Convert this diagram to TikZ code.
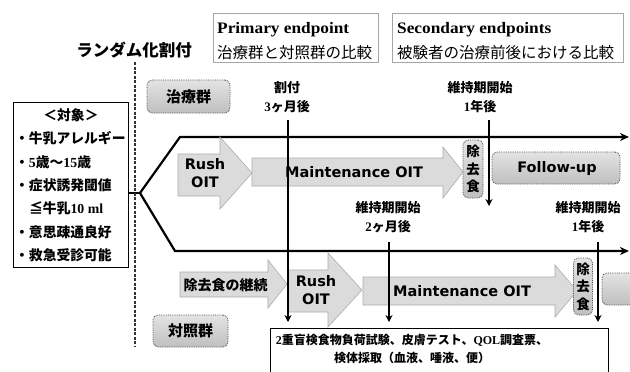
\documentclass[tikz,border=0pt]{standalone}
\usepackage{fontspec}
\setmainfont{Noto Sans CJK JP}
\newfontfamily\lserif{Liberation Serif}
\newfontfamily\eserif{Liberation Serif}[FakeStretch=1.08]
\newfontfamily\vsans{DejaVu Sans}
\usetikzlibrary{arrows.meta}
\tikzset{
  txt/.style={inner sep=0pt, align=center},
  jpb/.style={txt, font=\bfseries\fontsize{13.8}{19}\selectfont},
  lbl/.style={txt, font=\bfseries\fontsize{13}{19}\selectfont},
  engl/.style={txt, font=\vsans\bfseries\fontsize{14.5}{18}\selectfont},
  garrow/.style={fill=gray!28, draw=gray!65, line width=0.6pt, line join=miter},
  rbox/.style={rounded corners=5pt, draw=gray!60!black, densely dotted, line width=0.8pt,
    top color=gray!22, bottom color=gray!50, inner sep=0pt},
  epbox/.style={draw=gray!70, line width=0.8pt, inner sep=0pt},
  tline/.style={line width=2.2pt, line join=miter},
  vline/.style={line width=1.6pt, -{Stealth[length=7pt,width=7pt]}},
  randline/.style={line width=1.1pt, black!80, dash pattern=on 3pt off 1.5pt},
}
\begin{document}
\begin{tikzpicture}[x=1pt,y=-1pt]
\useasboundingbox (0,0) rectangle (630,372);
\clip (0,0) rectangle (630,372);
\fill[white] (0,0) rectangle (630,372);

% header
\node[txt, font=\bfseries\fontsize{16.5}{19}\selectfont] (rand) at (134,50) {ランダム化割付};
\node[epbox, minimum width=165pt, minimum height=49pt] (pbox) at (295.5,37.5) {};
\node[txt, anchor=west, font=\eserif\bfseries\fontsize{16}{18}\selectfont] (pt1) at (217,30) {Primary endpoint};
\node[txt, anchor=west, font=\fontsize{15.5}{18}\selectfont] (pt2) at (217,53) {治療群と対照群の比較};
\node[epbox, minimum width=231pt, minimum height=49pt] (sbox) at (507.5,37.5) {};
\node[txt, anchor=west, font=\eserif\bfseries\fontsize{16}{18}\selectfont] (st1) at (397,30) {Secondary endpoints};
\node[txt, anchor=west, font=\fontsize{15.5}{18}\selectfont] (st2) at (397,53) {被験者の治療前後における比較};

% target box
\node[draw, line width=1pt, minimum width=115pt, minimum height=165pt, inner sep=0pt] (tbox) at (70.5,184.5) {};
\node[jpb] (l0) at (71,115) {＜対象＞};
\node[jpb, anchor=west] (l1) at (15,138) {・牛乳アレルギー};
\node[jpb, anchor=west] (l2) at (15,162) {・{\lserif\bfseries 5}歳～{\lserif\bfseries 15}歳};
\node[jpb, anchor=west] (l3) at (15,185) {・症状誘発閾値};
\node[jpb, anchor=west] (l4) at (29,208) {≦牛乳{\lserif\bfseries 10 ml}};
\node[jpb, anchor=west] (l5) at (15,232) {・意思疎通良好};
\node[jpb, anchor=west] (l6) at (15,255) {・救急受診可能};

% group timelines
\coordinate (b0) at (128,193);
\coordinate (br) at (140,193);
\coordinate (t0) at (180,137);
\coordinate (t1) at (629,137);
\coordinate (u0) at (175,251);
\coordinate (u1) at (629,251);
\draw[tline] (b0) -- (br);
\draw[tline, -{Stealth[length=9pt,width=8pt]}] (br) -- (t0) -- (t1);
\draw[tline, -{Stealth[length=9pt,width=8pt]}] (br) -- (u0) -- (u1);

% dashed randomisation line
\coordinate (d0) at (135,62);
\coordinate (d1) at (135,346);
\draw[randline] (d0) -- (d1);

% group labels
\node[rbox, minimum width=83pt, minimum height=33pt, font=\bfseries\fontsize{15}{18}\selectfont] (g1) at (188.5,96.5) {治療群};
\node[rbox, minimum width=75pt, minimum height=32pt, font=\bfseries\fontsize{15}{18}\selectfont] (g2) at (190.5,331) {対照群};

% treatment group arrows
\path[garrow] (178,154) -- (220,154) -- (220,137) -- (252,173) -- (220,209) -- (220,196) -- (178,196) -- cycle;
\path[garrow] (252,158) -- (443,158) -- (443,147) -- (463,172) -- (443,198) -- (443,186) -- (252,186) -- cycle;
\node[rbox, minimum width=20pt, minimum height=58pt, align=center, font=\bfseries\fontsize{13.5}{17.5}\selectfont] (e1) at (473,169) {除\\去\\食};
\node[rbox, minimum width=128pt, minimum height=32pt] (fu) at (556,168) {};

% control group arrows
\path[garrow] (180,272) -- (268,272) -- (268,260) -- (287,284) -- (268,308) -- (268,297) -- (180,297) -- cycle;
\path[garrow] (288,270) -- (328,270) -- (328,253) -- (362,290) -- (328,327) -- (328,312) -- (288,312) -- cycle;
\path[garrow] (363,277) -- (555,277) -- (555,265) -- (577,291) -- (555,317) -- (555,305) -- (363,305) -- cycle;
\node[rbox, minimum width=19pt, minimum height=57pt, align=center, font=\bfseries\fontsize{13.5}{17.5}\selectfont] (e2) at (583,286.5) {除\\去\\食};
\node[rbox, minimum width=48pt, minimum height=32pt] (fu2) at (626,289) {};

% vertical time markers
\coordinate (va1) at (288,120);
\coordinate (va1e) at (288,322);
\coordinate (va2) at (489,120);
\coordinate (va2e) at (489,206);
\coordinate (va3) at (389,242);
\coordinate (va3e) at (389,322);
\coordinate (va4) at (598,242);
\coordinate (va4e) at (598,322);
\draw[vline] (va1) -- (va1e);
\draw[vline] (va2) -- (va2e);
\draw[vline] (va3) -- (va3e);
\draw[vline] (va4) -- (va4e);

% arrow texts
\node[engl] (r1) at (205,173) {Rush\\OIT};
\node[engl] (m1) at (354,172) {Maintenance OIT};
\node[engl] (fut) at (557,168) {Follow-up};
\node[txt, font=\bfseries\fontsize{14}{18}\selectfont] (cont) at (225.5,285) {除去食の継続};
\node[engl] (r2) at (316,290) {Rush\\OIT};
\node[engl] (m2) at (462,291) {Maintenance OIT};

% time labels
\node[lbl] (lab1) at (287,97) {割付\\{\lserif\bfseries 3}ヶ月後};
\node[lbl] (lab2) at (480,97) {維持期開始\\{\lserif\bfseries 1}年後};
\node[lbl] (lab3) at (388,217) {維持期開始\\{\lserif\bfseries 2}ヶ月後};
\node[lbl] (lab4) at (588,217) {維持期開始\\{\lserif\bfseries 1}年後};

% bottom box
\node[draw, line width=1pt, minimum width=338pt, minimum height=60pt, inner sep=0pt] (bbox) at (439,358) {};
\node[txt, font=\bfseries\fontsize{12}{18}\selectfont] (bt1) at (412,340) {{\lserif\bfseries 2}重盲検食物負荷試験、皮膚テスト、{\lserif\bfseries QOL}調査票、};
\node[txt, font=\bfseries\fontsize{12}{18}\selectfont] (bt2) at (412,358) {検体採取（血液、唾液、便）};
\end{tikzpicture}
\end{document}
